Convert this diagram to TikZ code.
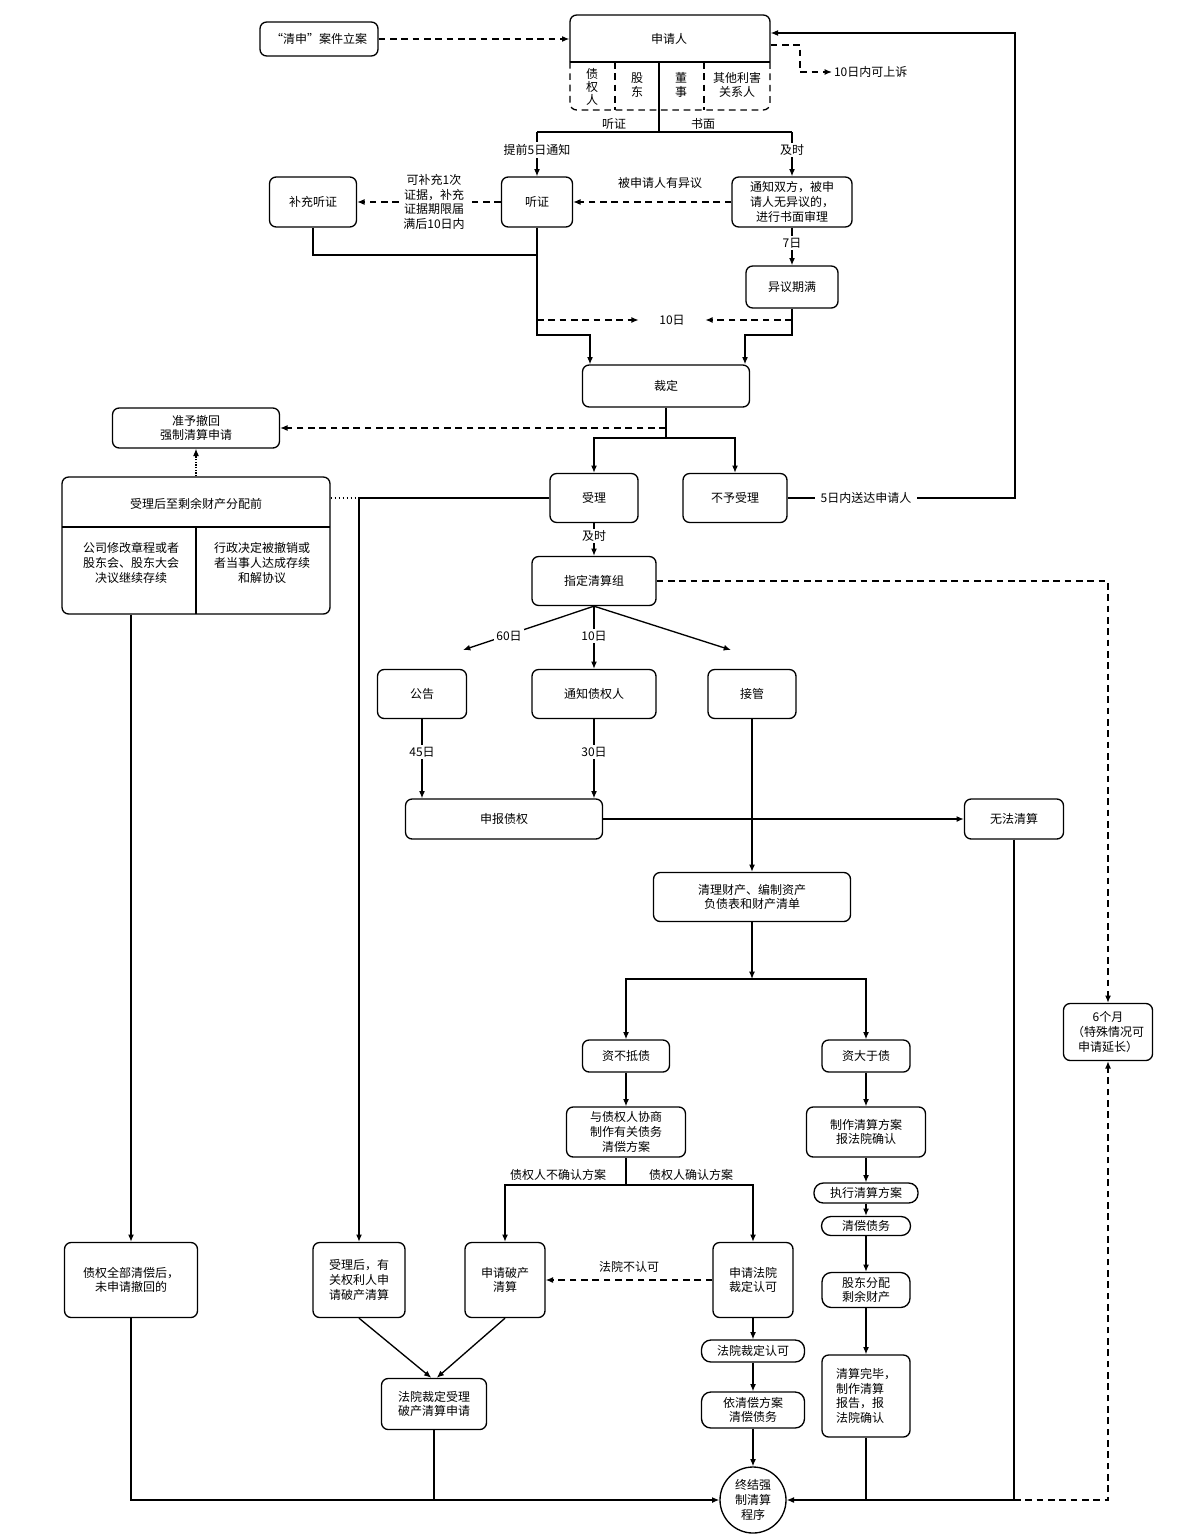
\documentclass[tikz,border=0pt]{standalone}
\usepackage{fontspec}
\setmainfont{Noto Sans CJK SC}
\usetikzlibrary{arrows.meta}
\begin{document}
\begin{tikzpicture}[x=0.75pt,y=-0.75pt,
  every node/.style={font=\fontsize{9}{11}\selectfont, align=center, inner sep=1pt},
  line width=1pt,
  >={Latex[length=5.5pt,width=4.5pt]},
  bx/.style n args={2}{draw, rounded corners=5pt, minimum width=#1*0.75pt, minimum height=#2*0.75pt, inner sep=2pt},
  pill/.style n args={2}{bx={#1}{#2}, rounded corners=7pt},
  lbl/.style={fill=white, inner sep=1.5pt},
  dsh/.style={dash pattern=on 5pt off 3.5pt},
  vtxt/.style={font=\fontsize{9}{10}\selectfont},
]
\fill[white] (0,0) rectangle (1188,1538);
\useasboundingbox (0,0) rectangle (1188,1538);

% ---------- top: applicant ----------
\node[bx={118}{34}] (qs) at (319,39) {“清申”案件立案};
\node[minimum width=150pt, minimum height=71.25pt, inner sep=0] (appl) at (670,62.5) {};
\draw[rounded corners=5pt] (570,62) -- (570,15) -- (770,15) -- (770,62);
\draw (570,62) -- (770,62);
\draw[dsh, rounded corners=5pt] (570,62) -- (570,110) -- (770,110) -- (770,62);
\draw[dsh] (615,62) -- (615,110);
\draw[dsh] (704,62) -- (704,110);
\node (apt) at (669,39) {申请人};
\node[vtxt] (c1) at (592,87) {债\\权\\人};
\node[vtxt] (c2) at (637,85) {股\\东};
\node[vtxt] (c3) at (681,85) {董\\事};
\node[vtxt] (c4) at (737,85) {其他利害\\关系人};
\coordinate (sp) at (659,132);
\draw (659,62) -- (sp);

\draw[dsh,->] (qs.east) -- (qs.east -| appl.west);
\node[anchor=west] (sy) at (832,72) {10日内可上诉};
\draw[dsh,->] (appl.east |- 0,45) -- (800,45) -- (800,72) -- (sy.west);

% ---------- hearing / written ----------
\node[bx={87}{50}] (bc) at (313,202) {补充听证};
\node[bx={71}{50}] (tz) at (537,202) {听证};
\node[bx={120}{50}] (tf) at (792,202) {通知双方，被申\\请人无异议的，\\进行书面审理};
\node[bx={92}{42}] (yq) at (792,287) {异议期满};
\node[bx={167}{42}] (cd) at (666,386) {裁定};

\draw (tz.north |- sp) -- (tf.north |- sp);
\draw[->] (tz.north |- sp) -- (tz.north);
\draw[->] (tf.north |- sp) -- (tf.north);
\node at (614,124) {听证};
\node at (703,124) {书面};
\node[lbl] at (537,150) {提前5日通知};
\node[lbl] at (792,150) {及时};

\draw[dsh,->] (tf.west) -- (tz.east);
\node at (660,183) {被申请人有异议};
\draw[dsh,->] (tz.west) -- (bc.east);
\node[lbl] at (434,202) {可补充1次\\证据，补充\\证据期限届\\满后10日内};

\draw[->] (tf.south) -- (yq.north);
\node[lbl] at (792,243) {7日};

\draw (bc.south) |- (tz.south |- 0,255);
\draw[->] (tz.south) -- (537,335) -- (590,335) -- (cd.north -| 590,0);
\draw[->] (yq.south) -- (792,335) -- (745,335) -- (cd.north -| 745,0);
\node (d10) at (672,320) {10日};
\draw[dsh,->] (tz.south |- d10) -- ([xshift=-14pt]d10.west);
\draw[dsh,->] (yq.south |- d10) -- ([xshift=14pt]d10.east);

% ---------- ruling ----------
\node[bx={167}{40}] (zh) at (196,428) {准予撤回\\强制清算申请};
\node[bx={88}{49}] (sl) at (594,498) {受理};
\node[bx={104}{49}] (bl) at (735,498) {不予受理};
\coordinate (cb) at (666,438);
\draw (cd.south) -- (cb);
\draw[->] (cb) -| (sl.north);
\draw[->] (cb) -| (bl.north);
\draw[dsh,->] (cd.south |- zh.east) -- (zh.east);

\draw[->] (bl.east) -- (1015,498) -- (1015,33) -- (appl.east |- 0,33);
\node[lbl, inner xsep=4pt] at (866,498) {5日内送达申请人};

% ---------- left withdraw box ----------
\node[bx={268}{137}] (hz) at (196,545.5) {};
\draw (62,527) -- (330,527);
\draw (196,527) -- (196,614);
\node (hzt) at (196,504) {受理后至剩余财产分配前};
\node (hzl) at (131,563) {公司修改章程或者\\股东会、股东大会\\决议继续存续};
\node (hzr) at (262,563) {行政决定被撤销或\\者当事人达成存续\\和解协议};
\draw[densely dotted,->] (hz.north) -- (zh.south);
\draw[dotted] (hz.east |- sl.west) -- (358,498);

% ---------- liquidation group ----------
\node[bx={124}{49}] (zd) at (594,581) {指定清算组};
\draw[->] (sl.south) -- (zd.north);
\node[lbl] at (594,536) {及时};

\node[bx={89}{49}] (gg) at (422,694) {公告};
\node[bx={124}{49}] (tzq) at (594,694) {通知债权人};
\node[bx={88}{49}] (jg) at (752,694) {接管};
\coordinate (dl) at (463,650);
\coordinate (dr) at (731,650);
\draw[->] (zd.south) -- (dl);
\draw[->] (zd.south) -- (tzq.north);
\draw[->] (zd.south) -- (dr);
\node[lbl] at (509,636) {60日};
\node[lbl] at (594,636) {10日};

\node[bx={197}{40}] (sb) at (504,819) {申报债权};
\node[bx={99}{40}] (wf) at (1014,819) {无法清算};
\draw[->] (gg.south) -- (sb.north -| gg.south);
\draw[->] (tzq.south) -- (sb.north -| tzq.south);
\node[lbl] at (422,752) {45日};
\node[lbl] at (594,752) {30日};
\draw[->] (sb.east) -- (wf.west);

\node[bx={197}{49}] (ql) at (752,897) {清理财产、编制资产\\负债表和财产清单};
\draw[->] (jg.south) -- (ql.north);

\node[bx={89}{57}] (six) at (1108,1032) {6个月\\（特殊情况可\\申请延长）};
\draw[dsh,->] (zd.east) -| (six.north);

% ---------- assets vs debts ----------
\node[bx={87}{32}] (zb) at (626,1056) {资不抵债};
\node[bx={88}{32}] (zy) at (866,1056) {资大于债};
\coordinate (qj) at (752,979);
\draw[->] (ql.south) -- (qj);
\draw[->] (qj) -| (zb.north);
\draw[->] (qj) -| (zy.north);

\node[bx={119}{50}] (xs) at (626,1132) {与债权人协商\\制作有关债务\\清偿方案};
\draw[->] (zb.south) -- (xs.north);
\node[bx={119}{50}] (zf) at (866,1132) {制作清算方案\\报法院确认};
\draw[->] (zy.south) -- (zf.north);
\node[pill={104}{20}] (zx) at (866,1193) {执行清算方案};
\node[pill={89}{19}] (qc) at (866,1226) {清偿债务};
\node[pill={88}{35}] (gd) at (866,1290) {股东分配\\剩余财产};
\node[bx={88}{82}, align=left] (qb) at (866,1396) {清算完毕，\\制作清算\\报告，报\\法院确认};
\draw[->] (zf.south) -- (zx.north);
\draw[->] (zx.south) -- (qc.north);
\draw[->] (qc.south) -- (gd.north);
\draw[->] (gd.south) -- (qb.north);

\node[bx={80}{75}] (sq) at (505,1280) {申请破产\\清算};
\node[bx={80}{75}] (sf) at (753,1280) {申请法院\\裁定认可};
\coordinate (xj) at (626,1185);
\draw (xs.south) -- (xj);
\draw[->] (xj) -| (sq.north);
\draw[->] (xj) -| (sf.north);
\node at (558,1175) {债权人不确认方案};
\node at (691,1175) {债权人确认方案};
\draw[dsh,->] (sf.west) -- (sq.east);
\node at (629,1267) {法院不认可};

\node[pill={103}{22}] (fr) at (753,1351) {法院裁定认可};
\node[pill={103}{36}] (yc) at (753,1410) {依清偿方案\\清偿债务};
\node[draw, circle, minimum size=49.5pt, inner sep=0pt] (end) at (753,1500) {终结强\\制清算\\程序};
\draw[->] (sf.south) -- (fr.north);
\draw[->] (fr.south) -- (yc.north);
\draw[->] (yc.south) -- (end.north);

% ---------- left bottom ----------
\node[bx={133}{75}] (zq) at (131,1280) {债权全部清偿后，\\未申请撤回的};
\node[bx={92}{75}] (hq) at (359,1280) {受理后，有\\关权利人申\\请破产清算};
\node[bx={105}{51}] (fs) at (434,1404) {法院裁定受理\\破产清算申请};
\draw[->] (hzl.south |- hz.south) -- (zq.north);
\draw[->] (sl.west) -| (hq.north);
\draw[->] (hq.south) -- ([xshift=-2pt]fs.north);
\draw[->] (sq.south) -- ([xshift=2pt]fs.north);

% ---------- bottom collection ----------
\draw[->] (zq.south) |- (end.west);
\draw (fs.south) -- (fs.south |- end.west);
\draw[->] (wf.south) |- (end.east);
\draw (qb.south) -- (qb.south |- end.east);
\draw[dsh,->] (wf.south |- end.east) -| (six.south);
\end{tikzpicture}
\end{document}
